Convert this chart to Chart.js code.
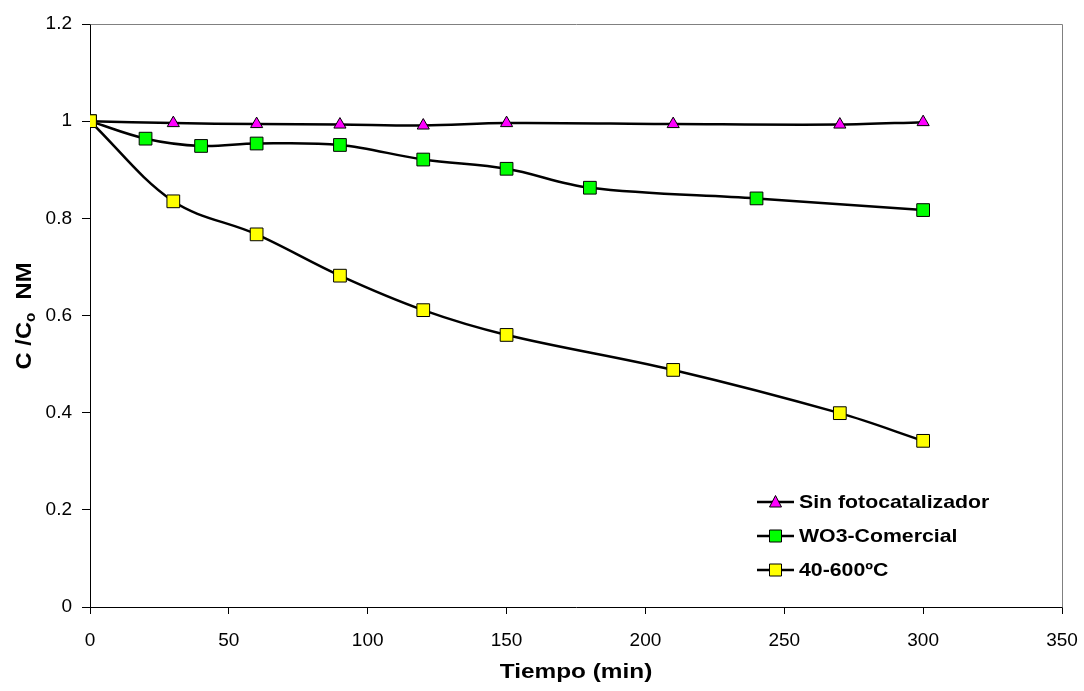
<!DOCTYPE html>
<html>
<head>
<meta charset="utf-8">
<script src="https://cdn.jsdelivr.net/npm/chart.js@4/dist/chart.umd.min.js"></script>
<style>
  html, body { margin: 0; padding: 0; background: #fff; }
  canvas { display: block; }
</style>
</head>
<body>
<canvas id="c" width="1084" height="691"></canvas>
<script>
// Axis ticks
const xTicks = [0, 50, 100, 150, 200, 250, 300, 350];
const yTicks = [0, 0.2, 0.4, 0.6, 0.8, 1, 1.2];

// Sin fotocatalizador
const tiempoSin = [0, 30, 60, 90, 120, 150, 210, 270, 300];
const valoresSin = [1.0, 0.996, 0.994, 0.993, 0.991, 0.996, 0.994, 0.993, 0.998];

// WO3-Comercial
const tiempoWO3 = [0, 20, 40, 60, 90, 120, 150, 180, 240, 300];
const valoresWO3 = [1.0, 0.964, 0.949, 0.954, 0.951, 0.921, 0.902, 0.863, 0.841, 0.817];

// 40-600ºC
const tiempo600 = [0, 30, 60, 90, 120, 150, 210, 270, 300];
const valores600 = [1.0, 0.835, 0.767, 0.682, 0.611, 0.560, 0.488, 0.399, 0.342];

const nombres = ['Sin fotocatalizador', 'WO3-Comercial', '40-600ºC'];

const toXY = (xs, ys) => xs.map((x, i) => ({ x: x, y: ys[i] }));

const FONT = '"Liberation Sans", Arial, sans-serif';

// Text drawn slightly widened horizontally
function drawStretched(ctx, text, x, y, font, sx, align) {
  ctx.save();
  ctx.font = font;
  const w = ctx.measureText(text).width * sx;
  let x0 = x;
  if (align === 'center') x0 = x - w / 2;
  ctx.translate(x0, y);
  ctx.scale(sx, 1);
  ctx.textAlign = 'left';
  ctx.fillText(text, 0, 0);
  ctx.restore();
  return w;
}

function drawMarker(ctx, style, x, y, fill) {
  ctx.save();
  ctx.fillStyle = fill;
  ctx.strokeStyle = '#000';
  ctx.lineWidth = 1;
  ctx.beginPath();
  if (style === 'triangle') {
    ctx.moveTo(x, y - 6.5);
    ctx.lineTo(x + 6, y + 5);
    ctx.lineTo(x - 6, y + 5);
    ctx.closePath();
  } else {
    ctx.rect(x - 6, y - 6, 12, 12);
  }
  ctx.fill();
  ctx.stroke();
  ctx.restore();
}

const framePlugin = {
  id: 'frame',
  beforeDatasetsDraw(chart) {
    const { ctx, chartArea: a } = chart;
    ctx.save();
    ctx.strokeStyle = '#808080';
    ctx.lineWidth = 1;
    ctx.beginPath();
    ctx.moveTo(Math.round(a.left) + 0.5, Math.round(a.top) + 0.5);
    ctx.lineTo(Math.round(a.right) + 0.5, Math.round(a.top) + 0.5);
    ctx.lineTo(Math.round(a.right) + 0.5, Math.round(a.bottom) + 0.5);
    ctx.stroke();
    ctx.restore();
  },
  afterDraw(chart) {
    const { ctx, chartArea: a } = chart;
    ctx.save();
    ctx.fillStyle = '#000';
    ctx.textBaseline = 'alphabetic';

    // X axis title
    drawStretched(ctx, 'Tiempo (min)', (a.left + a.right) / 2, 678,
      'bold 21px ' + FONT, 1.16, 'center');

    // Y axis title with subscript
    const sx = 1.08;
    const big = 'bold 22px ' + FONT;
    const small = 'bold 14px ' + FONT;
    ctx.font = big;
    const w1 = ctx.measureText('C /C').width;
    ctx.font = small;
    const w2 = ctx.measureText('o').width;
    ctx.font = big;
    const w3 = ctx.measureText('  NM').width;
    const total = (w1 + w2 + w3) * sx;
    ctx.translate(31, 316);
    ctx.rotate(-Math.PI / 2);
    ctx.translate(-total / 2, 0);
    ctx.scale(sx, 1);
    let px = 0;
    ctx.font = big;
    ctx.fillText('C /C', px, 0);
    px += w1;
    ctx.font = small;
    ctx.fillText('o', px, 4);
    px += w2;
    ctx.font = big;
    ctx.fillText('  NM', px, 0);
    ctx.restore();

    // Legend
    ctx.save();
    const rows = [502, 536, 570];
    chart.data.datasets.forEach((ds, i) => {
      const y = rows[i];
      ctx.strokeStyle = '#000';
      ctx.lineWidth = 2.5;
      ctx.beginPath();
      ctx.moveTo(757, y);
      ctx.lineTo(794, y);
      ctx.stroke();
      drawMarker(ctx, ds.pointStyle, 775.5, y, ds.pointBackgroundColor);
      ctx.fillStyle = '#000';
      ctx.textBaseline = 'middle';
      drawStretched(ctx, ds.label, 799, y + 1, 'bold 19px ' + FONT, 1.12, 'left');
    });
    ctx.restore();
  }
};

const tickFont = { family: FONT, size: 19 };

new Chart(document.getElementById('c'), {
  type: 'line',
  data: {
    datasets: [
      {
        label: nombres[0],
        data: toXY(tiempoSin, valoresSin),
        borderColor: '#000',
        borderWidth: 2.5,
        tension: 0.35,
        pointStyle: 'triangle',
        pointRadius: 7,
        pointBackgroundColor: '#FF00FF',
        pointBorderColor: '#000',
        pointBorderWidth: 1,
        order: 2
      },
      {
        label: nombres[1],
        data: toXY(tiempoWO3, valoresWO3),
        borderColor: '#000',
        borderWidth: 2.5,
        tension: 0.35,
        pointStyle: 'rect',
        pointRadius: 9,
        pointBackgroundColor: '#00FF00',
        pointBorderColor: '#000',
        pointBorderWidth: 1,
        order: 1
      },
      {
        label: nombres[2],
        data: toXY(tiempo600, valores600),
        borderColor: '#000',
        borderWidth: 2.5,
        tension: 0.35,
        pointStyle: 'rect',
        pointRadius: 9,
        pointBackgroundColor: '#FFFF00',
        pointBorderColor: '#000',
        pointBorderWidth: 1,
        order: 0
      }
    ]
  },
  options: {
    responsive: false,
    devicePixelRatio: 1,
    animation: false,
    layout: { padding: { left: 0, right: 22, top: 24, bottom: 0 } },
    plugins: {
      legend: { display: false },
      tooltip: { enabled: false },
      title: { display: false }
    },
    scales: {
      x: {
        type: 'linear',
        min: 0,
        max: 350,
        afterBuildTicks(axis) { axis.ticks = xTicks.map(v => ({ value: v })); },
        afterFit(scale) {
          scale.height = 84;
          scale.paddingLeft = 0;
          scale.paddingRight = 0;
        },
        ticks: {
          font: tickFont,
          color: '#000',
          padding: 15,
          maxRotation: 0,
          callback: v => String(v)
        },
        grid: { drawOnChartArea: false, drawTicks: true, tickLength: 7, color: '#000' },
        border: { color: '#000', width: 1 }
      },
      y: {
        min: 0,
        max: 1.2,
        afterBuildTicks(axis) { axis.ticks = yTicks.map(v => ({ value: v })); },
        afterFit(scale) {
          scale.width = 90;
          scale.paddingTop = 0;
          scale.paddingBottom = 0;
        },
        ticks: {
          font: tickFont,
          color: '#000',
          padding: 10,
          callback: v => String(Math.round(v * 10) / 10)
        },
        grid: { drawOnChartArea: false, drawTicks: true, tickLength: 8, color: '#000' },
        border: { color: '#000', width: 1 }
      }
    }
  },
  plugins: [framePlugin]
});
</script>
</body>
</html>
